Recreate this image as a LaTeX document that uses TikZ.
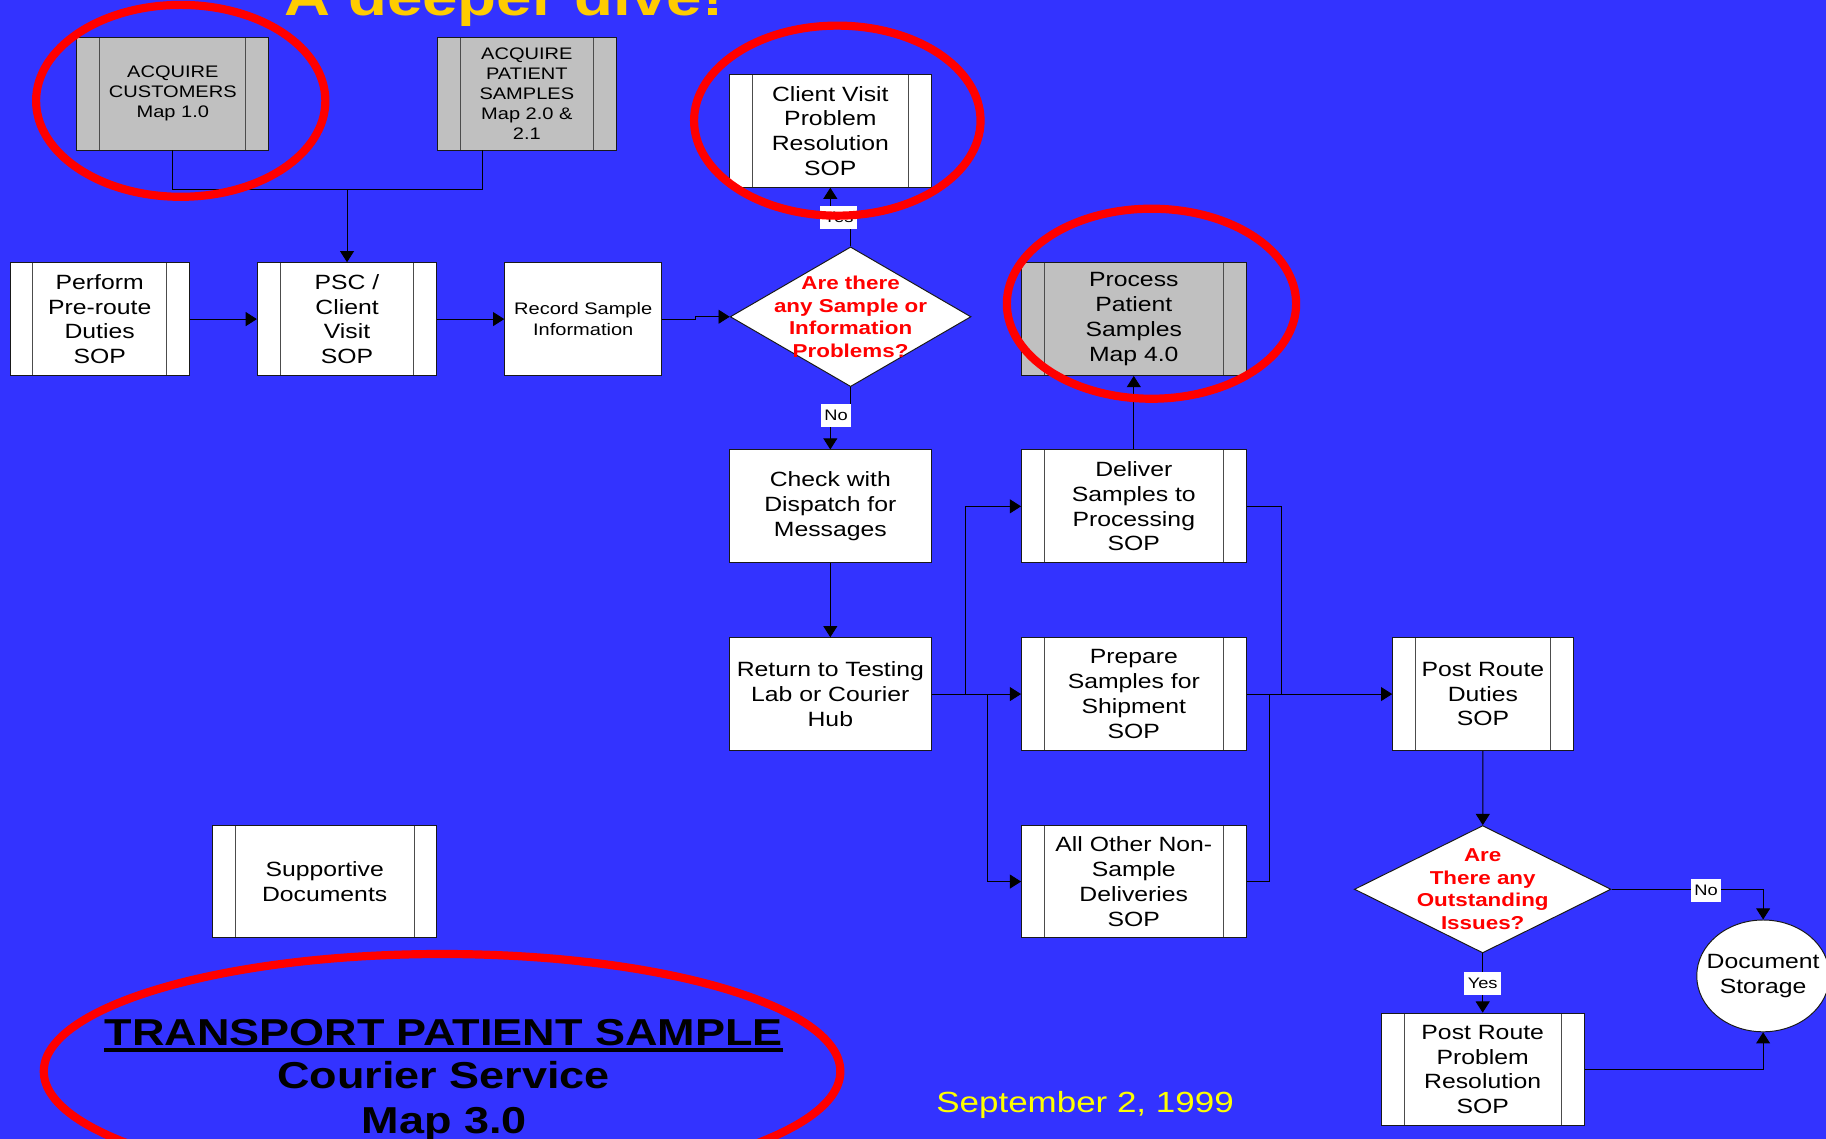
\documentclass[tikz,border=0pt]{standalone}
\usepackage{fontspec}
\setmainfont{Liberation Sans}[FakeStretch=1.2]
\usetikzlibrary{arrows.meta, shapes.geometric}
\definecolor{SlideBlue}{HTML}{3333FF}
\definecolor{MapGray}{HTML}{C0C0C0}
\definecolor{TitleGold}{HTML}{FFCC00}
\definecolor{DateYellow}{HTML}{FFFF00}
\definecolor{MarkRed}{HTML}{FF0000}

\begin{document}
\begin{tikzpicture}[line width=0.6pt,
    sop/.style={draw=black!90, fill=white, minimum width=4.82cm, minimum height=2.42cm,
                inner sep=0pt, align=center, font=\fontsize{12.6}{15.15}\selectfont,
                path picture={\draw[black!70]
                  ([xshift=0.49cm]path picture bounding box.south west) -- ([xshift=0.49cm]path picture bounding box.north west)
                  ([xshift=-0.49cm]path picture bounding box.south east) -- ([xshift=-0.49cm]path picture bounding box.north east);}},
    mapbox/.style={sop, fill=MapGray},
    task/.style={draw=black!90, fill=white, minimum width=4.34cm, minimum height=2.42cm,
                 inner sep=0pt, align=center, font=\fontsize{12.6}{15.15}\selectfont},
    smalltxt/.style={font=\fontsize{10.2}{12.3}\selectfont},
    decision/.style={diamond, draw=black!90, fill=white, inner sep=0pt},
    asktxt/.style={text=MarkRed, align=center, inner sep=0pt, font=\bfseries\fontsize{11.4}{13.73}\selectfont},
    lbl/.style={fill=white, inner xsep=0.075cm, inner ysep=0pt, minimum height=0.5cm, font=\fontsize{9.3}{9.3}\selectfont},
    arr/.style={-{Triangle[length=0.24cm,width=0.3cm]}},
    ring/.style={draw=MarkRed, line width=5pt}]

  \useasboundingbox (0,0) rectangle (39.2,-24.45);
  \fill[SlideBlue] (0,0) rectangle (39.2,-24.45);

  % headline, cut by the top edge
  \node[anchor=base west, inner sep=0pt, text=TitleGold, font=\bfseries\fontsize{32.4}{32.4}\selectfont] (head) at (6.1,-0.34) {A deeper dive!};

  % linked maps
  \node[mapbox, smalltxt, minimum width=4.12cm] (acqc) at (3.71,-2.01) {ACQUIRE\\CUSTOMERS\\Map 1.0};
  \node[mapbox, smalltxt, minimum width=3.85cm] (acqp) at (11.31,-2.01) {ACQUIRE\\PATIENT\\SAMPLES\\Map 2.0 \&\\2.1};

  % main row
  \node[sop, minimum width=3.85cm] (perf) at (2.14,-6.85) {Perform\\Pre-route\\Duties\\SOP};
  \node[sop, minimum width=3.85cm] (psc) at (7.45,-6.85) {PSC /\\Client\\Visit\\SOP};
  \node[task, smalltxt, minimum width=3.37cm] (rec) at (12.52,-6.85) {Record Sample\\Information};
  \node[decision, minimum width=5.17cm, minimum height=3cm] (dia1) at (18.26,-6.8) {};
  \node[asktxt] (dia1txt) at (dia1) {Are there\\any Sample or\\Information\\Problems?};
  \node[sop, minimum width=4.34cm] (cvp) at (17.825,-2.81) {Client Visit\\Problem\\Resolution\\SOP};

  % courier column
  \node[task] (chk) at (17.825,-10.87) {Check with\\Dispatch for\\Messages};
  \node[task] (ret) at (17.825,-14.9) {Return to Testing\\Lab or Courier\\Hub};

  % deliveries
  \node[mapbox] (proc) at (24.34,-6.85) {Process\\Patient\\Samples\\Map 4.0};
  \node[sop] (del) at (24.34,-10.87) {Deliver\\Samples to\\Processing\\SOP};
  \node[sop] (prep) at (24.34,-14.9) {Prepare\\Samples for\\Shipment\\SOP};
  \node[sop] (oth) at (24.34,-18.925) {All Other Non-\\Sample\\Deliveries\\SOP};

  % post route
  \node[sop, minimum width=3.875cm] (prd) at (31.835,-14.9) {Post Route\\Duties\\SOP};
  \node[decision, minimum width=5.51cm, minimum height=2.735cm] (dia2) at (31.83,-19.09) {};
  \node[asktxt] (dia2txt) at (dia2) {Are\\There any\\Outstanding\\Issues?};
  \node[sop, minimum width=4.35cm] (prp) at (31.83,-22.96) {Post Route\\Problem\\Resolution\\SOP};
  \node[ellipse, draw=black!90, fill=white, minimum width=2.85cm, minimum height=2.4cm, inner sep=0pt] (doc) at (37.85,-20.95) {};
  \node[align=center, inner sep=0pt, font=\fontsize{12.6}{15.15}\selectfont] (doctxt) at (doc) {Document\\Storage};

  \node[sop] (sup) at (6.97,-18.925) {Supportive\\Documents};

  % connectors
  \coordinate (jn) at (7.45,-4.075);
  \draw (acqc.south) |- (jn);
  \draw ([xshift=-0.96cm]acqp.south) |- (jn);
  \draw[arr] (jn) -- (psc.north);
  \draw[arr] (perf) -- (psc);
  \draw[arr] (psc) -- (rec);
  \draw[arr] (rec.east) -- ++(0.72,0) |- (dia1.west);
  \draw[arr] (dia1.north) -- ++(0,0.625) -| (cvp.south);
  \draw[arr] (dia1.south) -- ++(0,-0.625) -| (chk.north);
  \draw[arr] (chk) -- (ret);
  \draw[arr] (ret.east) -- (prep.west);
  \draw[arr] (ret.east) -- ++(0.725,0) |- (del.west);
  \draw[arr] (ret.east) -- ++(1.2,0) |- (oth.west);
  \draw[arr] (del) -- (proc);
  \draw[arr] (prep.east) -- (prd.west);
  \draw (del.east) -- ++(0.74,0) |- (prep.east);
  \draw (oth.east) -- ++(0.5,0) |- (prep.east);
  \draw[arr] (prd) -- (dia2);
  \draw[arr] (dia2.east) -| (doc.north);
  \draw[arr] (dia2.south) -- (prp.north);
  \draw[arr] (prp.east) -| (doc.south);

  % answer labels
  \node[lbl] (yes1) at (18.0,-4.675) {Yes};
  \node[lbl] (no1) at (17.95,-8.925) {No};
  \node[lbl] (no2) at (36.625,-19.11) {No};
  \node[lbl] (yes2) at (31.83,-21.11) {Yes};

  % map title and date
  \node[anchor=base, inner sep=0pt, font=\bfseries\fontsize{22.9}{22.9}\selectfont] (ttl1) at (9.525,-22.435) {TRANSPORT PATIENT SAMPLE};
  \draw[line width=2.5pt] ([yshift=-3pt]ttl1.base west) -- ([yshift=-3pt]ttl1.base east);
  \node[anchor=base, inner sep=0pt, font=\bfseries\fontsize{22.9}{22.9}\selectfont] (ttl2) at (9.525,-23.375) {Courier Service};
  \node[anchor=base, inner sep=0pt, font=\bfseries\fontsize{22.9}{22.9}\selectfont] (ttl3) at (9.54,-24.33) {Map 3.0};
  \node[anchor=base west, inner sep=0pt, text=DateYellow, font=\fontsize{17.8}{17.8}\selectfont] (date) at (20.09,-23.89) {September 2, 1999};

  % red rings
  \draw[ring] (3.88,-2.165) ellipse [x radius=3.105, y radius=2.06];
  \draw[ring] (17.975,-2.59) ellipse [x radius=3.075, y radius=2.04];
  \draw[ring] (24.72,-6.52) ellipse [x radius=3.105, y radius=2.04];
  \draw[ring] (9.49,-23.0) ellipse [x radius=8.55, y radius=2.52];
\end{tikzpicture}
\end{document}
